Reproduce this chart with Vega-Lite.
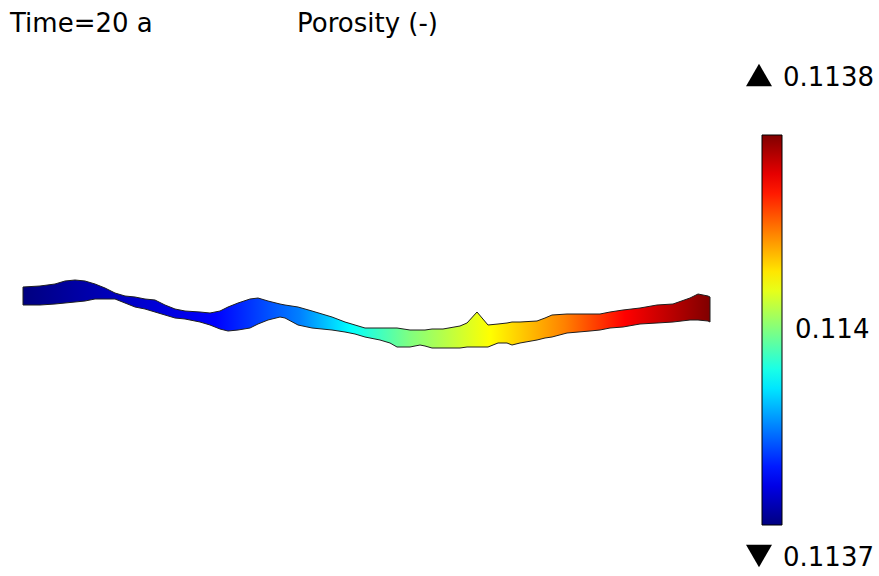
{
  "$schema": "https://vega.github.io/schema/vega-lite/v6.json",
  "width": 879,
  "height": 576,
  "padding": 0,
  "autosize": {"type": "none"},
  "background": "white",
  "config": {
    "view": {"stroke": null},
    "font": "DejaVu Sans",
    "text": {"font": "DejaVu Sans", "fontSize": 26, "color": "black"}
  },
  "datasets": {
    "fracture": [
      {"x": 0, "top": 29, "bottom": 11},
      {"x": 17, "top": 30, "bottom": 11},
      {"x": 32, "top": 32, "bottom": 12},
      {"x": 42, "top": 35, "bottom": 13},
      {"x": 52, "top": 36, "bottom": 14},
      {"x": 62, "top": 35, "bottom": 15},
      {"x": 72, "top": 32, "bottom": 17},
      {"x": 82, "top": 28, "bottom": 17},
      {"x": 92, "top": 23, "bottom": 17},
      {"x": 102, "top": 20, "bottom": 13},
      {"x": 112, "top": 19, "bottom": 9},
      {"x": 122, "top": 17, "bottom": 7},
      {"x": 132, "top": 16, "bottom": 4},
      {"x": 142, "top": 11, "bottom": 1},
      {"x": 152, "top": 7, "bottom": -2},
      {"x": 162, "top": 5, "bottom": -3},
      {"x": 177, "top": 4, "bottom": -6},
      {"x": 187, "top": 3, "bottom": -9},
      {"x": 197, "top": 5, "bottom": -13},
      {"x": 205, "top": 9, "bottom": -15},
      {"x": 215, "top": 13, "bottom": -14},
      {"x": 227, "top": 17, "bottom": -12},
      {"x": 235, "top": 18, "bottom": -8},
      {"x": 245, "top": 15, "bottom": -4},
      {"x": 257, "top": 12, "bottom": -1},
      {"x": 262, "top": 11, "bottom": -2},
      {"x": 275, "top": 9, "bottom": -9},
      {"x": 289, "top": 5, "bottom": -12},
      {"x": 299, "top": 2, "bottom": -13},
      {"x": 309, "top": -1, "bottom": -14},
      {"x": 322, "top": -6, "bottom": -16},
      {"x": 332, "top": -9, "bottom": -18},
      {"x": 342, "top": -12, "bottom": -21},
      {"x": 357, "top": -12, "bottom": -24},
      {"x": 367, "top": -12, "bottom": -27},
      {"x": 374, "top": -12, "bottom": -31},
      {"x": 387, "top": -14, "bottom": -31},
      {"x": 397, "top": -14, "bottom": -29},
      {"x": 402, "top": -14, "bottom": -30},
      {"x": 409, "top": -13, "bottom": -32},
      {"x": 420, "top": -13, "bottom": -32},
      {"x": 437, "top": -10, "bottom": -32},
      {"x": 444, "top": -7, "bottom": -31},
      {"x": 454, "top": 4, "bottom": -31},
      {"x": 465, "top": -9, "bottom": -31},
      {"x": 475, "top": -8, "bottom": -27},
      {"x": 484, "top": -7, "bottom": -27},
      {"x": 489, "top": -6, "bottom": -29},
      {"x": 497, "top": -6, "bottom": -27},
      {"x": 514, "top": -5, "bottom": -24},
      {"x": 522, "top": -2, "bottom": -22},
      {"x": 529, "top": 1, "bottom": -21},
      {"x": 544, "top": 2, "bottom": -17},
      {"x": 567, "top": 2, "bottom": -15},
      {"x": 577, "top": 2, "bottom": -14},
      {"x": 587, "top": 4, "bottom": -12},
      {"x": 600, "top": 6, "bottom": -11},
      {"x": 617, "top": 8, "bottom": -8},
      {"x": 634, "top": 11, "bottom": -7},
      {"x": 650, "top": 12, "bottom": -6},
      {"x": 667, "top": 18, "bottom": -4},
      {"x": 675, "top": 22, "bottom": -4},
      {"x": 685, "top": 20, "bottom": -5},
      {"x": 687, "top": 19, "bottom": -6}
    ],
    "range": [
      {"stat": "max", "porosity": 0.113755},
      {"stat": "min", "porosity": 0.113745}
    ]
  },
  "layer": [
    {
      "data": {"name": "fracture"},
      "mark": {
        "type": "area",
        "interpolate": "linear",
        "stroke": "#1e1e1e",
        "strokeWidth": 1,
        "fill": {
          "gradient": "linear",
          "x1": 0, "y1": 0, "x2": 1, "y2": 0,
          "stops": [
            {"offset": 0, "color": "#000080"},
            {"offset": 0.28, "color": "#0000ff"},
            {"offset": 0.403, "color": "#0080ff"},
            {"offset": 0.476, "color": "#00ffff"},
            {"offset": 0.563, "color": "#80ff80"},
            {"offset": 0.68, "color": "#ffff00"},
            {"offset": 0.789, "color": "#ff8000"},
            {"offset": 0.876, "color": "#ff0000"},
            {"offset": 1, "color": "#800000"}
          ]
        }
      },
      "encoding": {
        "x": {"field": "x", "type": "quantitative", "scale": {"domain": [-23, 856], "nice": false, "zero": false}, "axis": null},
        "y": {"field": "top", "type": "quantitative", "scale": {"domain": [-260, 316], "nice": false, "zero": false}, "axis": null},
        "y2": {"field": "bottom"}
      }
    },
    {
      "data": {"name": "range"},
      "mark": {"type": "point", "filled": true, "opacity": 0, "size": 1},
      "encoding": {
        "x": {"datum": 736, "type": "quantitative"},
        "y": {"datum": 0, "type": "quantitative"},
        "fill": {
          "field": "porosity",
          "type": "quantitative",
          "scale": {
            "domain": [0.113745, 0.11374625, 0.1137475, 0.11374875, 0.11375, 0.11375125, 0.1137525, 0.11375375, 0.113755],
            "range": ["#000080", "#0000ff", "#0080ff", "#00ffff", "#80ff80", "#ffff00", "#ff8000", "#ff0000", "#800000"],
            "interpolate": "rgb",
            "nice": false,
            "zero": false
          },
          "legend": {
            "orient": "none",
            "legendX": 762,
            "legendY": 135,
            "padding": 0,
            "title": null,
            "direction": "vertical",
            "gradientLength": 390,
            "gradientThickness": 20,
            "gradientStrokeColor": "black",
            "gradientStrokeWidth": 1,
            "values": [0.11375],
            "format": ".3r",
            "labelFont": "DejaVu Sans",
            "labelFontSize": 26,
            "labelColor": "black",
            "labelOffset": 13,
            "labelAlign": "left",
            "labelBaseline": "middle"
          }
        }
      }
    },
    {
      "data": {"name": "range"},
      "transform": [{"filter": "datum.stat === 'max'"}],
      "layer": [
        {
          "mark": {"type": "point", "shape": "triangle-up", "filled": true, "color": "black", "opacity": 1, "size": 676},
          "encoding": {
            "x": {"datum": 736, "type": "quantitative"},
            "y": {"datum": 241, "type": "quantitative"}
          }
        },
        {
          "mark": {"type": "text", "align": "left", "baseline": "alphabetic"},
          "encoding": {
            "x": {"datum": 760, "type": "quantitative"},
            "y": {"datum": 230, "type": "quantitative"},
            "text": {"field": "porosity", "type": "quantitative", "format": ".4r"}
          }
        }
      ]
    },
    {
      "data": {"name": "range"},
      "transform": [{"filter": "datum.stat === 'min'"}],
      "layer": [
        {
          "mark": {"type": "point", "shape": "triangle-down", "filled": true, "color": "black", "opacity": 1, "size": 676},
          "encoding": {
            "x": {"datum": 736, "type": "quantitative"},
            "y": {"datum": -240, "type": "quantitative"}
          }
        },
        {
          "mark": {"type": "text", "align": "left", "baseline": "alphabetic"},
          "encoding": {
            "x": {"datum": 760, "type": "quantitative"},
            "y": {"datum": -250, "type": "quantitative"},
            "text": {"field": "porosity", "type": "quantitative", "format": ".4r"}
          }
        }
      ]
    },
    {
      "data": {"values": [{"caption": "Time=20 a"}]},
      "mark": {"type": "text", "align": "left", "baseline": "alphabetic"},
      "encoding": {
        "x": {"datum": -13, "type": "quantitative"},
        "y": {"datum": 284, "type": "quantitative"},
        "text": {"field": "caption"}
      }
    },
    {
      "data": {"values": [{"caption": "Porosity (-)"}]},
      "mark": {"type": "text", "align": "left", "baseline": "alphabetic"},
      "encoding": {
        "x": {"datum": 274, "type": "quantitative"},
        "y": {"datum": 284, "type": "quantitative"},
        "text": {"field": "caption"}
      }
    }
  ]
}
